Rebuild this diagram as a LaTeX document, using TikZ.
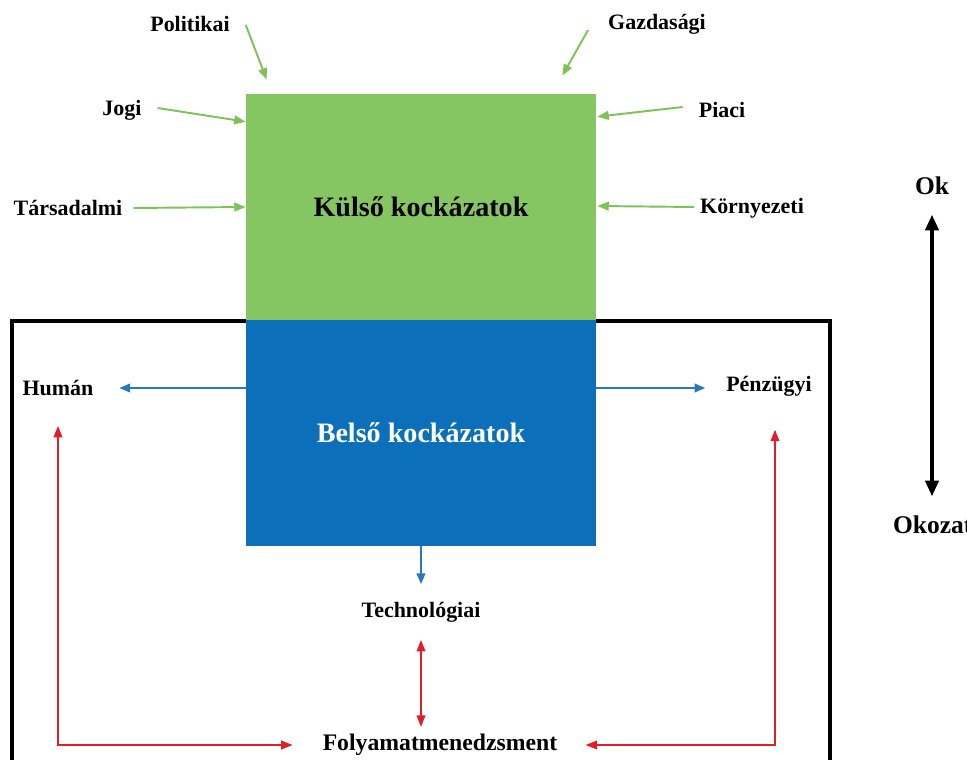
\documentclass[tikz,border=0pt]{standalone}
\usepackage{fontspec}
\setmainfont{Liberation Serif}
\usetikzlibrary{arrows.meta,calc,positioning}
\definecolor{kulsogreen}{RGB}{134,198,98}
\definecolor{belsoblue}{RGB}{11,112,185}
\definecolor{greenline}{RGB}{125,195,90}
\definecolor{blueline}{RGB}{40,120,190}
\definecolor{redline}{RGB}{225,30,40}

\begin{document}
\begin{tikzpicture}[x=0.02cm,y=-0.02cm,
    lbl/.style={font=\bfseries\fontsize{12.5}{15}\selectfont,inner sep=1pt},
    biglbl/.style={font=\bfseries\fontsize{14.5}{17}\selectfont,inner sep=1pt},
    riskbox/.style={minimum width=7cm,minimum height=4.52cm,inner sep=0pt,
        font=\bfseries\fontsize{16}{19}\selectfont},
    garrow/.style={draw=greenline,line width=1.1pt,-{Triangle[length=6.5pt,width=5pt]}},
    barrow/.style={draw=blueline,line width=0.8pt,-{Triangle[length=6pt,width=5pt]}},
    rarrow/.style={draw=redline,line width=0.8pt,{Triangle[length=6.5pt,width=5pt]}-{Triangle[length=6.5pt,width=5pt]}}]
    \useasboundingbox (0,0) rectangle (967,760);
    % frame of the firm
    \draw[line width=2pt] (12,770) -- (12,321) -- (830,321) -- (830,770);
    % the two boxes
    \node[riskbox,fill=kulsogreen] (kulso) at (421,207) {Külső kockázatok};
    \node[riskbox,fill=belsoblue,text=white] (belso) at (421,433) {Belső kockázatok};
    % outside factors
    \node[lbl] (politikai) at (190,24) {Politikai};
    \node[lbl] (gazdasagi) at (657,24) {Gazdasági};
    \node[lbl] (jogi) at (122,110) {Jogi};
    \node[lbl] (piaci) at (722,110) {Piaci};
    \node[lbl] (tarsadalmi) at (68,208) {Társadalmi};
    \node[lbl] (kornyezeti) at (752,208) {Környezeti};
    \draw[garrow] ($(politikai.east)+(14,1)$) -- ($(kulso.north west)+(21,-14)$);
    \draw[garrow] ($(gazdasagi.west)+(-18,6)$) -- ($(kulso.north east)+(-34,-18)$);
    \draw[garrow] ($(jogi.east)+(14,-2)$) -- ($(kulso.north west)+(0,28)$);
    \draw[garrow] ($(piaci.west)+(-14,-3)$) -- ($(kulso.north east)+(1,23)$);
    \draw[garrow] ($(tarsadalmi.east)+(9,0)$) -- (kulso.west);
    \draw[garrow] ($(kornyezeti.west)+(-4,-1)$) -- ($(kulso.east)+(1,-1)$);
    % inside factors
    \node[lbl] (human) at (58,388) {Humán};
    \node[lbl] (penzugyi) at (769,386) {Pénzügyi};
    \node[lbl] (techno) at (421,612) {Technológiai};
    \node[lbl,font=\bfseries\fontsize{13.5}{16}\selectfont] (folyamat) at (440,745) {Folyamatmenedzsment};
    \coordinate (penzfoot) at ($(penzugyi.south)+(6,0)$);
    \coordinate (penzleft) at ($(penzugyi.west)+(-19,2)$);
    \coordinate (humanright) at ($(human.east)+(24,0)$);
    \draw[barrow] (belso.west |- humanright) -- (humanright);
    \draw[barrow] (belso.east |- penzleft) -- (penzleft);
    \draw[barrow,shorten >=9pt] (belso.south) -- (techno.north);
    \draw[rarrow,shorten <=9pt,shorten >=3pt] (techno.south) -- (techno.south |- folyamat.north);
    \draw[rarrow,shorten <=16pt,shorten >=16pt] (human.south) -- (human.south |- folyamat.west) -- (folyamat.west);
    \draw[rarrow,shorten <=15pt,shorten >=18pt] (folyamat.east) -- (penzfoot |- folyamat.east) -- (penzfoot);
    % cause and effect
    \node[biglbl] (ok) at (932,186) {Ok};
    \node[biglbl,anchor=west] (okozat) at (891,525) {Okozat};
    \draw[line width=2.2pt,{Triangle[length=9pt,width=7.5pt]}-{Triangle[length=9pt,width=7.5pt]},
        shorten <=10pt,shorten >=10pt] (ok.south) -- (ok.south |- okozat.north);
\end{tikzpicture}
\end{document}
